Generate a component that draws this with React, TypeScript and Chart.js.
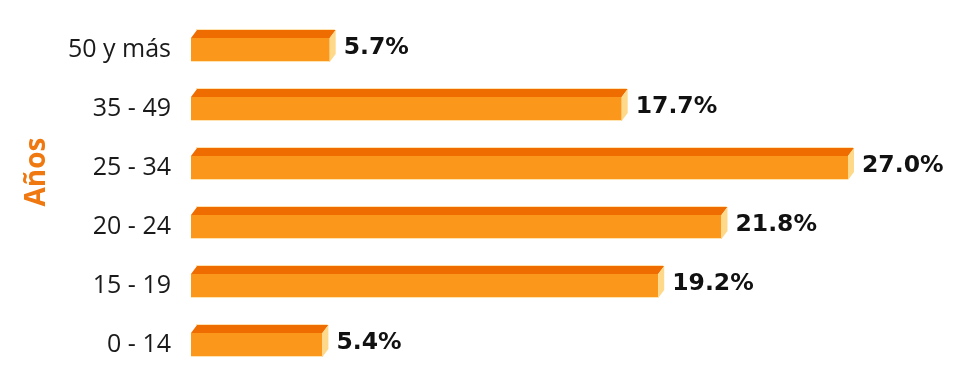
import React, { useEffect, useRef } from "react";
import { Chart, registerables } from "chart.js";

Chart.register(...registerables);

const categories = ["50 y más", "35 - 49", "25 - 34", "20 - 24", "15 - 19", "0 - 14"];
const values = [5.7, 17.7, 27.0, 21.8, 19.2, 5.4];
const valueLabels = ["5.7%", "17.7%", "27.0%", "21.8%", "19.2%", "5.4%"];
const axisTitle = "Años";

const TOP = "#ee6c00";
const FRONT = "#fb981b";
const SIDE = "#ffd98a";
const EDGE = "#ffe3b0";
const DX = 6;
const DY = 8;

const bars3d = {
  id: "bars3d",
  afterDatasetsDraw(chart: any) {
    const ctx = chart.ctx;
    const meta = chart.getDatasetMeta(0);
    ctx.save();
    meta.data.forEach((bar: any, i: number) => {
      const { x, y, base, height } = bar.getProps(["x", "y", "base", "height"], true);
      const top = y - height / 2;
      const bottom = y + height / 2;
      const ft = top + DY;
      // front
      ctx.fillStyle = FRONT;
      ctx.fillRect(base, ft, x - base, bottom - ft);
      // bottom highlight
      ctx.fillStyle = EDGE;
      ctx.fillRect(base, bottom - 1, x - base, 1);
      // top face
      ctx.fillStyle = TOP;
      ctx.beginPath();
      ctx.moveTo(base, ft);
      ctx.lineTo(base + DX, top);
      ctx.lineTo(x + DX, top);
      ctx.lineTo(x, ft);
      ctx.closePath();
      ctx.fill();
      // top highlight
      ctx.fillStyle = EDGE;
      ctx.fillRect(base + DX - 1, top - 1, x - base, 1);
      // side face
      ctx.fillStyle = SIDE;
      ctx.beginPath();
      ctx.moveTo(x, ft);
      ctx.lineTo(x + DX, top);
      ctx.lineTo(x + DX, bottom - DY);
      ctx.lineTo(x, bottom);
      ctx.closePath();
      ctx.fill();
      // value label
      ctx.fillStyle = "#111111";
      ctx.font = "bold 23.5px 'DejaVu Sans'";
      ctx.textAlign = "left";
      ctx.textBaseline = "middle";
      ctx.fillText(valueLabels[i], x + DX + 8, y + 2);
    });
    // axis title
    ctx.translate(37, 172);
    ctx.rotate(-Math.PI / 2);
    ctx.fillStyle = "#f07810";
    ctx.font = "bold 28px 'Open Sans'";
    ctx.textAlign = "center";
    ctx.textBaseline = "middle";
    ctx.fillText(axisTitle, 0, 0);
    ctx.restore();
  },
};

export default function App() {
  const ref = useRef<HTMLCanvasElement | null>(null);
  useEffect(() => {
    document.body.style.margin = "0";
    const chart = new Chart(ref.current!, {
      type: "bar",
      data: {
        labels: categories,
        datasets: [
          {
            data: values,
            backgroundColor: "rgba(0,0,0,0)",
            borderWidth: 0,
            barThickness: 32,
          },
        ],
      },
      options: {
        indexAxis: "y",
        animation: false,
        responsive: false,
        maintainAspectRatio: false,
        layout: { padding: { left: 0, right: 40, top: 16.5, bottom: 3.5 } },
        plugins: { legend: { display: false }, tooltip: { enabled: false } },
        scales: {
          x: { display: false, min: 0, max: 30 },
          y: {
            grid: { display: false, drawTicks: false },
            border: { display: false },
            afterFit: (scale: any) => {
              scale.width = 191;
              scale.paddingTop = 0;
              scale.paddingBottom = 0;
            },
            ticks: {
              padding: 20,
              labelOffset: 4,
              color: "#1a1a1a",
              font: { family: "'Open Sans'", size: 25 },
            },
          },
        },
      },
      plugins: [bars3d],
    });
    return () => chart.destroy();
  }, []);
  return (
    <div style={{ width: 961, height: 374, background: "#ffffff" }}>
      <canvas ref={ref} width={961} height={374} style={{ display: "block" }} />
    </div>
  );
}
